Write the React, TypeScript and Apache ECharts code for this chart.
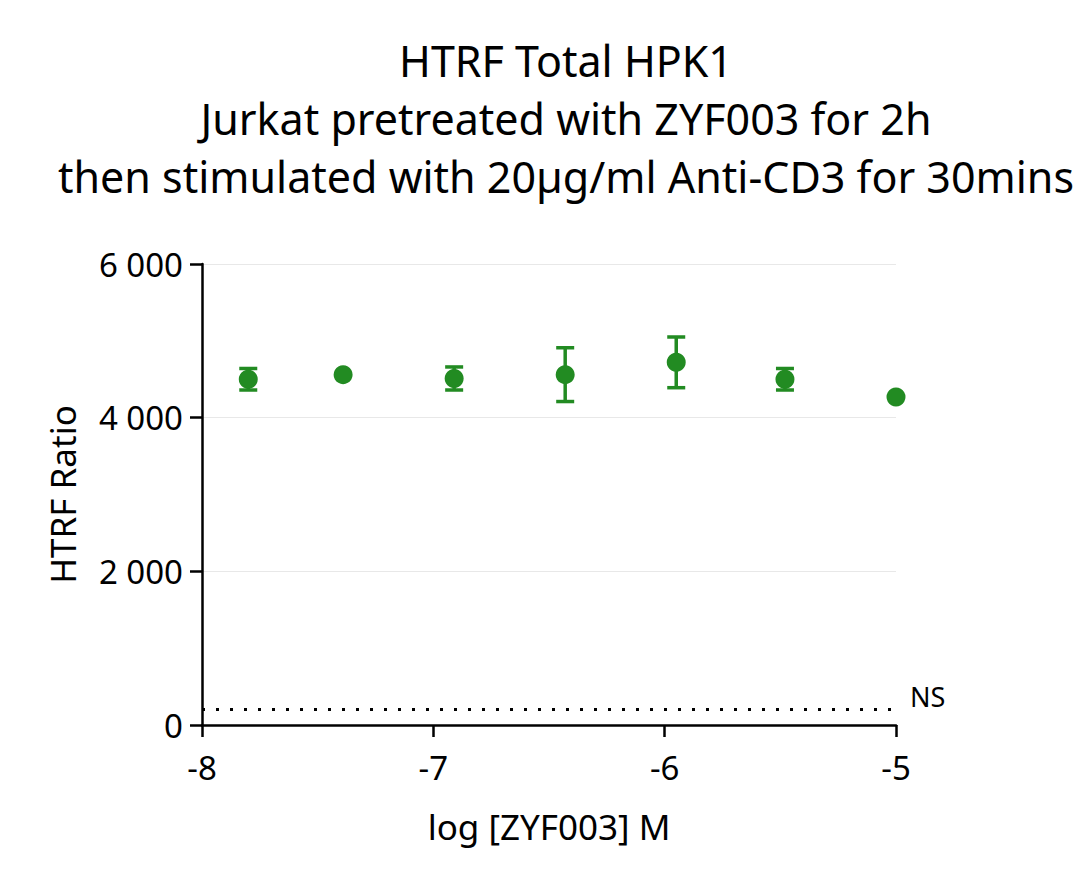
import React, { useEffect, useRef } from "react";
import * as echarts from "echarts";

const titleLines = [
  "HTRF Total HPK1",
  "Jurkat pretreated with ZYF003 for 2h",
  "then stimulated with 20µg/ml Anti-CD3 for 30mins",
];
const xLabel = "log [ZYF003] M";
const yLabel = "HTRF Ratio";
const logConc = [-7.8, -7.39, -6.91, -6.43, -5.95, -5.48, -5.0];
const meanRatio = [4500, 4560, 4510, 4560, 4720, 4500, 4270];
const sdRatio = [140, 0, 150, 350, 330, 140, 0];
const nsLevel = 200;
const nsLabel = "NS";

const GREEN = "#228B22";
const FONT = "'Noto Sans', Lato, sans-serif";

export default function App() {
  const ref = useRef<HTMLDivElement>(null);
  useEffect(() => {
    document.body.style.margin = "0";
    const chart = echarts.init(ref.current!, null, { renderer: "svg" });
    const points = logConc.map((x, i) => [x, meanRatio[i]]);
    const errData = logConc.map((x, i) => [x, meanRatio[i], sdRatio[i]]);
    chart.setOption({
      animation: false,
      backgroundColor: "#ffffff",
      title: {
        text: titleLines.join("\n"),
        left: 561,
        top: 26,
        textAlign: "center",
        textStyle: {
          fontFamily: FONT,
          fontSize: 43,
          fontWeight: "normal",
          color: "#000",
          lineHeight: 58,
        },
      },
      grid: { left: 202, right: 184, top: 264, bottom: 161 },
      xAxis: {
        type: "value",
        min: -8,
        max: -5,
        interval: 1,
        name: xLabel,
        nameLocation: "middle",
        nameGap: 84,
        nameTextStyle: { fontFamily: FONT, fontSize: 35, color: "#000" },
        axisLine: { show: true, onZero: false, lineStyle: { color: "#000", width: 2.5 } },
        axisTick: { show: true, length: 12, lineStyle: { color: "#000", width: 2.5 } },
        axisLabel: { fontFamily: FONT, fontSize: 33, color: "#000", margin: 26 },
        splitLine: { show: false },
      },
      yAxis: {
        type: "value",
        min: 0,
        max: 6000,
        interval: 2000,
        name: yLabel,
        nameLocation: "middle",
        nameGap: 122,
        nameTextStyle: { fontFamily: FONT, fontSize: 35, color: "#000" },
        axisLine: { show: true, lineStyle: { color: "#000", width: 2.5 } },
        axisTick: { show: true, length: 12, lineStyle: { color: "#000", width: 2.5 } },
        axisLabel: {
          fontFamily: FONT,
          fontSize: 33,
          color: "#000",
          margin: 19,
          formatter: (v: number) => String(v).replace(/\B(?=(\d{3})+(?!\d))/g, " "),
        },
        splitLine: { show: true, lineStyle: { color: "#e8e8e8", width: 1 } },
      },
      series: [
        {
          type: "custom",
          data: errData,
          z: 3,
          renderItem: (params: any, api: any) => {
            const x = api.value(0);
            const m = api.value(1);
            const e = api.value(2);
            if (!e) return { type: "group", children: [] };
            const top = api.coord([x, m + e]);
            const bot = api.coord([x, m - e]);
            const hw = 9;
            const style = { stroke: GREEN, lineWidth: 3.5 };
            return {
              type: "group",
              children: [
                { type: "line", shape: { x1: top[0], y1: top[1], x2: bot[0], y2: bot[1] }, style },
                { type: "line", shape: { x1: top[0] - hw, y1: top[1], x2: top[0] + hw, y2: top[1] }, style },
                { type: "line", shape: { x1: bot[0] - hw, y1: bot[1], x2: bot[0] + hw, y2: bot[1] }, style },
              ],
            };
          },
        },
        {
          type: "scatter",
          data: points,
          symbol: "circle",
          symbolSize: 19,
          z: 4,
          itemStyle: { color: GREEN, opacity: 1 },
          markLine: {
            silent: true,
            symbol: ["none", "none"],
            lineStyle: { color: "#000", width: 3, type: [3, 11] },
            label: {
              show: true,
              position: "end",
              distance: 14,
              formatter: nsLabel,
              fontFamily: FONT,
              fontSize: 27,
              color: "#000",
              offset: [0, -13],
            },
            data: [{ yAxis: nsLevel }],
          },
        },
      ],
    });
    return () => chart.dispose();
  }, []);
  return <div ref={ref} style={{ width: 1080, height: 886 }} />;
}
